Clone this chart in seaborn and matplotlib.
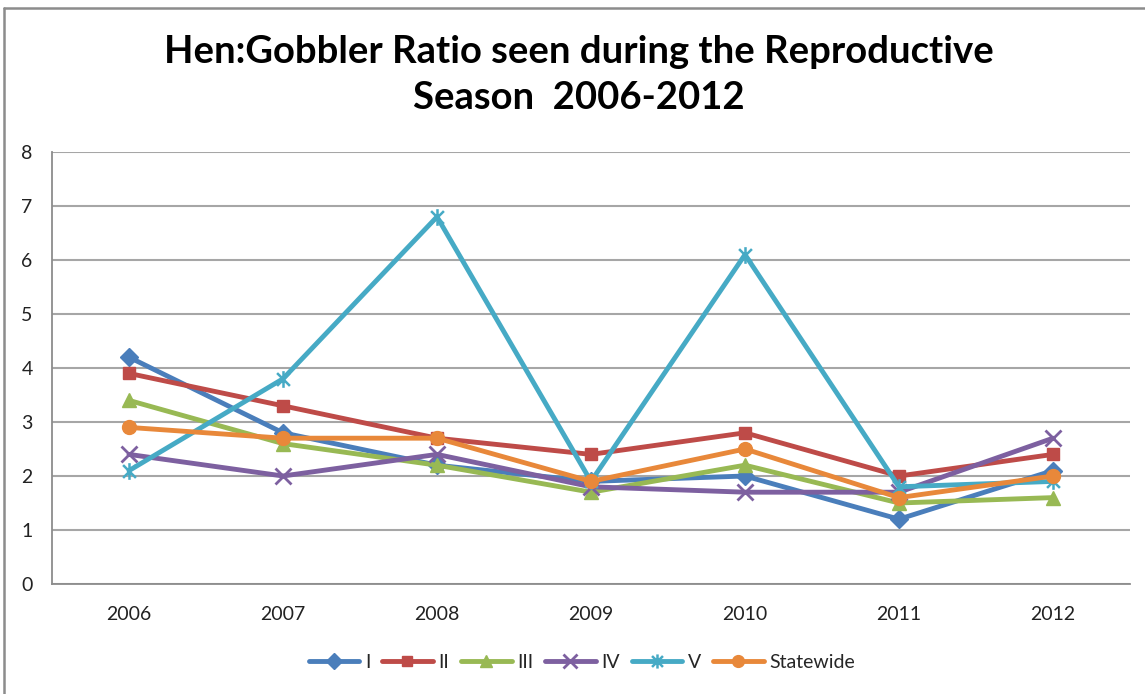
import numpy as np
import pandas as pd
import matplotlib
matplotlib.use("Agg")
import matplotlib.pyplot as plt
from matplotlib.path import Path
from matplotlib.lines import Line2D
import seaborn as sns

# Hen:gobbler ratios by region, reproductive season surveys
years = [2006, 2007, 2008, 2009, 2010, 2011, 2012]
region_I = [4.2, 2.8, 2.2, 1.9, 2.0, 1.2, 2.1]
region_II = [3.9, 3.3, 2.7, 2.4, 2.8, 2.0, 2.4]
region_III = [3.4, 2.6, 2.2, 1.7, 2.2, 1.5, 1.6]
region_IV = [2.4, 2.0, 2.4, 1.8, 1.7, 1.7, 2.7]
region_V = [2.1, 3.8, 6.8, 1.9, 6.1, 1.8, 1.9]
statewide = [2.9, 2.7, 2.7, 1.9, 2.5, 1.6, 2.0]

series_names = ["I", "II", "III", "IV", "V", "Statewide"]
series_values = [region_I, region_II, region_III, region_IV, region_V, statewide]
y_ticks = [0, 1, 2, 3, 4, 5, 6, 7, 8]

colors = ["#4A7EBB", "#BE4B48", "#98B954", "#7D60A0", "#46AAC5", "#E8883A"]

# Excel-style asterisk marker: an x with a vertical stroke
star_path = Path(
    [(-1, -1), (1, 1), (-1, 1), (1, -1), (0, -1.3), (0, 1.3)],
    [Path.MOVETO, Path.LINETO, Path.MOVETO, Path.LINETO, Path.MOVETO, Path.LINETO],
)
markers = ["D", "s", "^", "x", star_path, "o"]
marker_sizes = [9, 9, 10, 12, 12, 10]
marker_edges = [1.0, 1.0, 1.0, 2.0, 1.8, 1.0]

df = pd.DataFrame(
    [(y, name, v) for name, vals in zip(series_names, series_values)
     for y, v in zip(years, vals)],
    columns=["Year", "Region", "Ratio"],
)

sns.set_style("white")
plt.rcParams["font.family"] = ["Lato", "DejaVu Sans"]

fig = plt.figure(figsize=(11.45, 6.94), dpi=100)
ax = fig.add_axes([52 / 1145, 1 - 584 / 694, (1130 - 52) / 1145, (584 - 152) / 694])

sns.lineplot(
    data=df, x="Year", y="Ratio", hue="Region", hue_order=series_names,
    palette=colors, marker="o", linewidth=3.5, legend=False, ax=ax,
)

# per-series marker shapes, drawn in the series colour without a white rim
for line, mk, ms, mew in zip(ax.lines, markers, marker_sizes, marker_edges):
    c = line.get_color()
    line.set_marker(mk)
    line.set_markeredgecolor(c)
    line.set_markerfacecolor(c)
    line.set_markersize(ms)
    line.set_markeredgewidth(mew)

ax.set_xlim(years[0] - 0.5, years[-1] + 0.5)
ax.set_ylim(y_ticks[0], y_ticks[-1])
ax.set_xticks(years)
ax.set_xticklabels([str(y) for y in years])
ax.set_yticks(y_ticks)
ax.set_xlabel("")
ax.set_ylabel("")
ax.tick_params(axis="both", length=0, labelsize=14, colors="#222222")
ax.tick_params(axis="y", pad=14)
ax.tick_params(axis="x", pad=16)
ax.grid(axis="y", color="#A6A6A6", linewidth=1.5)
ax.grid(axis="x", visible=False)
ax.set_axisbelow(True)
for side in ("top", "right"):
    ax.spines[side].set_visible(False)
for side in ("left", "bottom"):
    ax.spines[side].set_color("#8C8C8C")
    ax.spines[side].set_linewidth(1.3)

fig.text(
    579 / 1145, 1 - 75 / 694,
    "Hen:Gobbler Ratio seen during the Reproductive\nSeason  2006-2012",
    ha="center", va="center", multialignment="center",
    fontsize=27.5, fontweight="bold", linespacing=1.45, color="black",
)

leg = ax.legend(
    handles=ax.lines[:len(series_names)], labels=series_names,
    loc="center", bbox_to_anchor=(582 / 1145, 1 - 662 / 694),
    bbox_transform=fig.transFigure, ncol=6, frameon=False,
    fontsize=14, handlelength=2.6, columnspacing=0.6, handletextpad=0.3,
)
for h in leg.legend_handles:
    h.set_markersize(h.get_markersize() * 0.85)

# outer chart frame
fig.add_artist(Line2D([4 / 1145, 4 / 1145], [0, 1 - 8 / 694],
                      transform=fig.transFigure, color="#8C8C8C", lw=1.8))
fig.add_artist(Line2D([4 / 1145, 1], [1 - 8 / 694, 1 - 8 / 694],
                      transform=fig.transFigure, color="#8C8C8C", lw=1.8))

fig.savefig("out.png", dpi=100)
